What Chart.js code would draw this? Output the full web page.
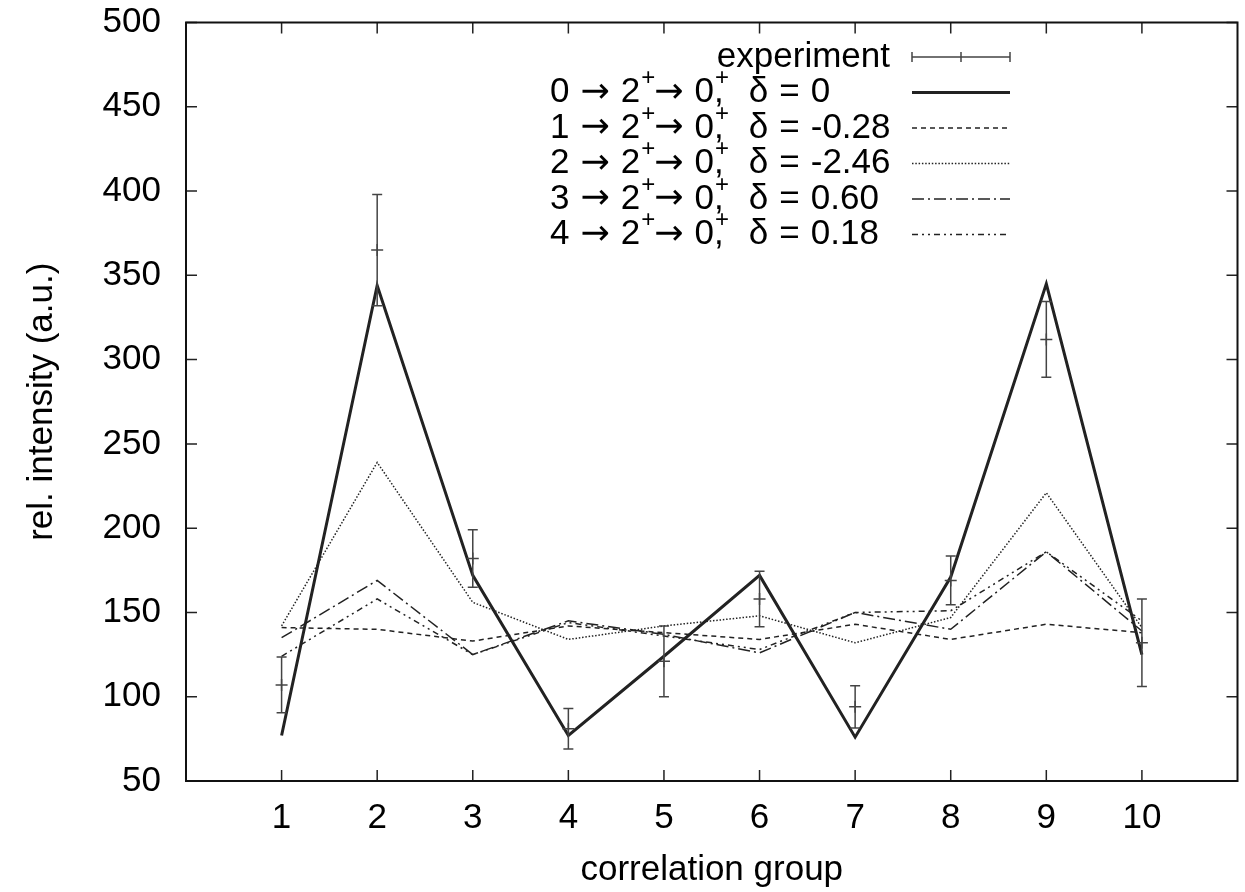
<!DOCTYPE html>
<html>
<head>
<meta charset="utf-8">
<script src="https://cdn.jsdelivr.net/npm/chart.js@4/dist/chart.umd.min.js"></script>
<style>
  html, body { margin: 0; padding: 0; background: #fff; overflow: hidden; }
  canvas { display: block; }
</style>
</head>
<body>
<canvas id="chart" width="1245" height="892"></canvas>
<script>
// correlation groups and tick values
const groups = [1, 2, 3, 4, 5, 6, 7, 8, 9, 10]
const xTicks = [0, 1, 2, 3, 4, 5, 6, 7, 8, 9, 10, 11]
const yTicks = [50, 100, 150, 200, 250, 300, 350, 400, 450, 500]

// measured intensities with errors
const expValue = [107, 365, 182, 81, 121, 158, 94, 169, 312, 132]
const expError = [16.5, 33, 17, 12, 21, 16.5, 12.5, 14.5, 22.5, 26]

// calculated distributions
const delta0 = [77, 344, 172, 77, 124, 172, 76, 171, 345, 125]
const deltaM028 = [141, 140, 133, 142, 138, 134, 143, 134, 143, 138]
const deltaM246 = [142, 239, 156, 134, 142, 148, 132, 147, 221, 141]
const delta060 = [135, 169, 125, 145, 137, 126, 150, 140, 186, 139]
const delta018 = [124, 158, 125, 144, 136, 128, 150, 151, 186, 145]

const keyLabels = [
  'experiment',
  '0 → 2^+→ 0^+, δ = 0',
  '1 → 2^+→ 0^+, δ = -0.28',
  '2 → 2^+→ 0^+, δ = -2.46',
  '3 → 2^+→ 0^+, δ = 0.60',
  '4 → 2^+→ 0^+, δ = 0.18'
]

const FONT = '"Liberation Sans", Arial, Helvetica, sans-serif'
const font = { family: FONT, size: 35 }
const ink = '#222'

const pts = (vals) => groups.map((g, i) => ({ x: g, y: vals[i] }))

const lineSet = (vals, width, dash) => ({
  data: pts(vals),
  borderColor: ink,
  borderWidth: width,
  borderDash: dash,
  pointRadius: 0,
  fill: false,
  tension: 0
})

// gnuplot-like frame with inward ticks on all four sides
const framePlugin = {
  id: 'frame',
  afterDraw (chart) {
    const { ctx, chartArea: a, scales } = chart
    const tl = 11
    ctx.save()
    ctx.strokeStyle = ink
    ctx.lineWidth = 1.5
    ctx.beginPath()
    groups.forEach(v => {
      const x = scales.x.getPixelForValue(v)
      ctx.moveTo(x, a.bottom); ctx.lineTo(x, a.bottom - tl)
      ctx.moveTo(x, a.top); ctx.lineTo(x, a.top + tl)
    })
    yTicks.forEach(v => {
      const y = scales.y.getPixelForValue(v)
      ctx.moveTo(a.left, y); ctx.lineTo(a.left + tl, y)
      ctx.moveTo(a.right, y); ctx.lineTo(a.right - tl, y)
    })
    ctx.stroke()
    ctx.lineWidth = 2
    ctx.strokeStyle = '#111'
    ctx.strokeRect(a.left, a.top, a.right - a.left, a.bottom - a.top)
    ctx.restore()
  }
}

// error bars of the measured points
const errorBarPlugin = {
  id: 'errorBars',
  afterDatasetsDraw (chart) {
    const { ctx, scales } = chart
    const cap = 5
    ctx.save()
    ctx.strokeStyle = '#444'
    ctx.lineWidth = 1.5
    ctx.beginPath()
    groups.forEach((g, i) => {
      const x = scales.x.getPixelForValue(g)
      const top = scales.y.getPixelForValue(expValue[i] + expError[i])
      const bot = scales.y.getPixelForValue(expValue[i] - expError[i])
      ctx.moveTo(x, top); ctx.lineTo(x, bot)
      ctx.moveTo(x - cap, top); ctx.lineTo(x + cap, top)
      ctx.moveTo(x - cap, bot); ctx.lineTo(x + cap, bot)
    })
    ctx.stroke()
    ctx.restore()
  }
}

// key text: '^' raises the next character, arrows come from DejaVu
const drawRich = (ctx, text, left, y) => {
  const base = '35px ' + FONT
  const arrow = '35px "DejaVu Sans", ' + FONT
  const sup = '24px ' + FONT
  const space = 11
  let x = left
  ctx.textAlign = 'left'
  ctx.textBaseline = 'middle'
  for (let i = 0; i < text.length; i++) {
    let ch = text[i]
    if (ch === ' ') {
      x += space
      continue
    }
    if (ch === '^') {
      ch = text[++i]
      ctx.font = sup
      ctx.fillText(ch, x + 1, y - 14)
      const w = ctx.measureText(ch).width
      if (text[i + 1] === ',') {
        // gnuplot puts the comma right under the raised sign
        ctx.font = base
        ctx.fillText(',', x, y)
        x += w + ctx.measureText(',').width
        i++
      } else {
        x += w
      }
      continue
    }
    ctx.font = ch === '→' ? arrow : base
    ctx.fillText(ch, x, y)
    x += ctx.measureText(ch).width
  }
}

const keyPlugin = {
  id: 'gpKey',
  afterDraw (chart) {
    const { ctx } = chart
    const textRight = 890
    const textLeft = 550
    const x0 = 912
    const x1 = 1010
    const top = 57
    const step = 35.5
    ctx.save()
    ctx.fillStyle = '#000'
    keyLabels.forEach((label, i) => {
      const y = top + i * step
      if (i === 0) {
        ctx.font = '35px ' + FONT
        ctx.textAlign = 'right'
        ctx.textBaseline = 'middle'
        ctx.fillText(label, textRight, y)
      } else {
        drawRich(ctx, label, textLeft, y)
      }
      const ds = chart.data.datasets[i]
      ctx.beginPath()
      if (i === 0) {
        ctx.strokeStyle = '#444'
        ctx.lineWidth = 1.5
        ctx.setLineDash([])
        ctx.moveTo(x0, y); ctx.lineTo(x1, y)
        ctx.moveTo(x0, y - 5); ctx.lineTo(x0, y + 5)
        ctx.moveTo(x1, y - 5); ctx.lineTo(x1, y + 5)
        const xm = (x0 + x1) / 2
        ctx.moveTo(xm, y - 5); ctx.lineTo(xm, y + 5)
      } else {
        ctx.strokeStyle = ds.borderColor
        ctx.lineWidth = ds.borderWidth
        ctx.setLineDash(ds.borderDash || [])
        ctx.moveTo(x0, y); ctx.lineTo(x1, y)
      }
      ctx.stroke()
    })
    ctx.restore()
  }
}

const chart = new Chart(document.getElementById('chart'), {
  type: 'line',
  data: {
    datasets: [
      {
        data: pts(expValue),
        showLine: false,
        pointStyle: 'cross',
        pointRadius: 6,
        borderColor: '#444',
        borderWidth: 1.5
      },
      lineSet(delta0, 3, []),
      lineSet(deltaM028, 1.5, [5, 4]),
      lineSet(deltaM246, 1.5, [1.5, 1.8]),
      lineSet(delta060, 1.5, [12, 4, 2, 4]),
      lineSet(delta018, 1.5, [6, 4, 2, 4, 2, 4])
    ]
  },
  options: {
    responsive: false,
    animation: false,
    events: [],
    layout: { padding: { left: 0, right: 5, top: 22.5, bottom: 0 } },
    plugins: {
      legend: { display: false },
      tooltip: { enabled: false }
    },
    scales: {
      x: {
        type: 'linear',
        min: 0,
        max: 11,
        afterBuildTicks: s => { s.ticks = xTicks.map(v => ({ value: v })) },
        afterFit: s => {
          s.height = 111
          s.paddingLeft = 0
          s.paddingRight = 0
        },
        ticks: {
          font: font,
          color: '#000',
          padding: 8,
          maxRotation: 0,
          autoSkip: false,
          callback: v => (v >= 1 && v <= 10 ? String(v) : '')
        },
        grid: { display: false },
        border: { display: false },
        title: { display: true, text: 'correlation group', font: font, color: '#000', padding: { top: 0, bottom: 1 } }
      },
      y: {
        min: 50,
        max: 500,
        afterBuildTicks: s => { s.ticks = yTicks.map(v => ({ value: v })) },
        afterFit: s => {
          s.width = 186
          s.paddingTop = 0
          s.paddingBottom = 0
        },
        ticks: { font: font, color: '#000', padding: 17 },
        grid: { display: false },
        border: { display: false },
        title: { display: true, text: 'rel. intensity (a.u.)', font: font, color: '#000', padding: { top: 21, bottom: 0 } }
      }
    }
  },
  plugins: [errorBarPlugin, framePlugin, keyPlugin]
})
</script>
</body>
</html>
